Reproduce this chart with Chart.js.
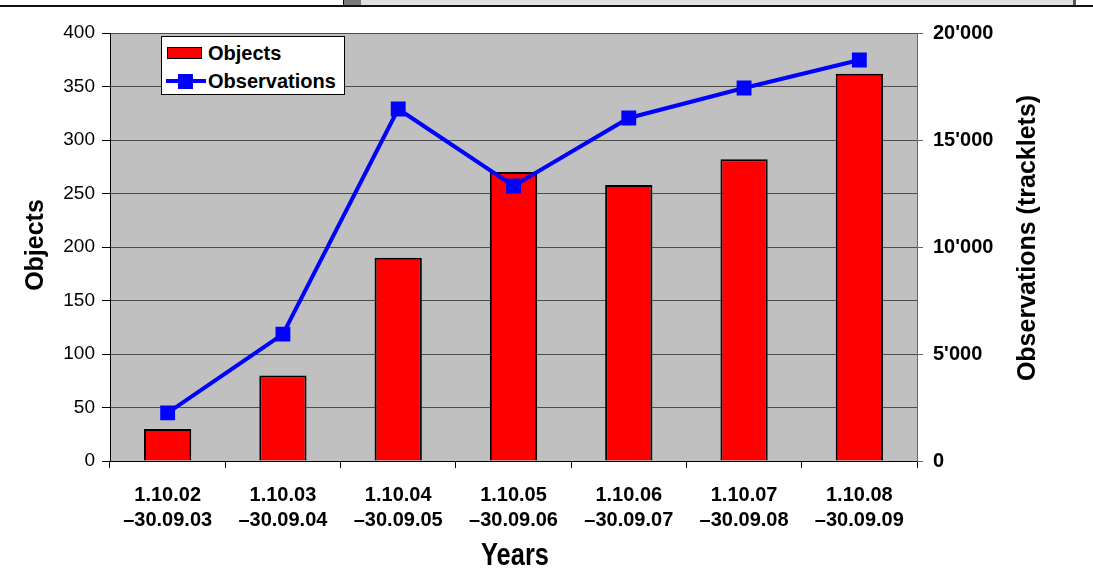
<!DOCTYPE html>
<html>
<head>
<meta charset="utf-8">
<script src="https://cdn.jsdelivr.net/npm/chart.js@4.4.1/dist/chart.umd.min.js"></script>
<style>
  html, body { margin: 0; padding: 0; background: #fff; }
  #wrap { position: relative; width: 1093px; height: 576px; overflow: hidden; font-family: "Liberation Sans", Arial, sans-serif; }
  #chartCanvas { position: absolute; left: 0; top: 0; }
  /* window strip along the top edge */
  .bar-dark { position: absolute; left: 343px; top: 0; width: 18px; height: 6px; background: #7a7a7a; border-left: 1px solid #000; }
  .bar-light { position: absolute; left: 361px; top: 0; width: 712px; height: 6px; background: #dde1e4; border-right: 3px solid #555; }
  .bar-line { position: absolute; left: 0; top: 5px; width: 1093px; height: 2px; background: #111; }
  #legend { position: absolute; left: 161px; top: 36px; width: 184px; height: 59px; background: #fff; border: 1px solid #000; box-sizing: border-box; }
  #legend .swatch { position: absolute; left: 5px; top: 10px; width: 35px; height: 12px; background: #ff0000; border: 1px solid #000; box-sizing: border-box; }
  #legend .ln { position: absolute; left: 4px; top: 42px; width: 40px; height: 4px; background: #0000ff; }
  #legend .mk { position: absolute; left: 16px; top: 37px; width: 15px; height: 15px; background: #0000ff; }
  #legend .txt { position: absolute; left: 46px; font-weight: bold; font-size: 20px; line-height: 24px; color: #000; }
</style>
</head>
<body>
<div id="wrap">
  <canvas id="chartCanvas" width="1093" height="576"></canvas>
  <div class="bar-dark"></div>
  <div class="bar-light"></div>
  <div class="bar-line"></div>
  <div id="legend">
    <div class="swatch"></div>
    <div class="txt" style="top:4px">Objects</div>
    <div class="ln"></div>
    <div class="mk"></div>
    <div class="txt" style="top:32px">Observations</div>
  </div>
</div>
<script>
const categories = [
  ['1.10.02', '–30.09.03'],
  ['1.10.03', '–30.09.04'],
  ['1.10.04', '–30.09.05'],
  ['1.10.05', '–30.09.06'],
  ['1.10.06', '–30.09.07'],
  ['1.10.07', '–30.09.08'],
  ['1.10.08', '–30.09.09']
];
const objects = [30, 80, 190, 270, 258, 282, 362];
const observations = [2250, 5930, 16450, 12850, 16030, 17430, 18740];

const FONT = '"Liberation Sans", Arial, sans-serif';

// thousands with an apostrophe: 15000 -> 15'000
const swissNum = v => String(v).replace(/\B(?=(\d{3})+(?!\d))/g, "'");

const plotBg = {
  id: 'plotBg',
  beforeDraw(chart) {
    const { ctx, chartArea: a } = chart;
    ctx.save();
    ctx.fillStyle = '#c0c0c0';
    ctx.fillRect(a.left, a.top, a.right - a.left, a.bottom - a.top);
    ctx.restore();
  }
};

const axisTitles = {
  id: 'axisTitles',
  afterDraw(chart) {
    const { ctx } = chart;
    ctx.save();
    ctx.fillStyle = '#000';
    ctx.textAlign = 'center';
    ctx.textBaseline = 'alphabetic';
    ctx.font = 'bold 25px ' + FONT;

    ctx.save();
    ctx.translate(43, 245);
    ctx.rotate(-Math.PI / 2);
    ctx.fillText('Objects', 0, 0);
    ctx.restore();

    ctx.save();
    ctx.translate(1035, 238);
    ctx.rotate(-Math.PI / 2);
    ctx.fillText('Observations (tracklets)', 0, 0);
    ctx.restore();

    ctx.save();
    ctx.translate(515, 565);
    ctx.scale(0.82, 1);
    ctx.font = 'bold 31px ' + FONT;
    ctx.fillText('Years', 0, 0);
    ctx.restore();

    ctx.restore();
  }
};

const ctx = document.getElementById('chartCanvas').getContext('2d');
new Chart(ctx, {
  data: {
    labels: categories,
    datasets: [
      {
        type: 'line',
        label: 'Observations',
        data: observations,
        yAxisID: 'y1',
        borderColor: '#0000ff',
        backgroundColor: '#0000ff',
        borderWidth: 4,
        pointStyle: 'rect',
        pointRadius: 10.5,
        pointBorderWidth: 0,
        tension: 0,
        order: 0
      },
      {
        type: 'bar',
        label: 'Objects',
        data: objects,
        yAxisID: 'y',
        backgroundColor: '#ff0000',
        borderColor: '#000',
        borderWidth: 2,
        barPercentage: 0.41,
        categoryPercentage: 1,
        order: 1
      }
    ]
  },
  options: {
    responsive: false,
    animation: false,
    layout: { padding: { top: 33, left: 0, right: 0, bottom: 0 } },
    plugins: { legend: { display: false }, tooltip: { enabled: false } },
    scales: {
      x: {
        offset: true,
        grid: { offset: true, drawOnChartArea: false, color: '#000', tickLength: 7 },
        border: { color: '#000' },
        ticks: {
          color: '#000', padding: 15, maxRotation: 0, autoSkip: false,
          font: { family: FONT, size: 20, weight: 'bold', lineHeight: 1.25 }
        },
        afterFit: s => { s.height = 115; }
      },
      y: {
        position: 'left',
        min: 0, max: 400,
        ticks: { stepSize: 50, color: '#000', padding: 7, font: { family: FONT, size: 19 } },
        grid: { color: '#4d4d4d', tickColor: '#000', tickLength: 8 },
        border: { color: '#000' },
        afterFit: s => { s.width = 110; }
      },
      y1: {
        position: 'right',
        min: 0, max: 20000,
        ticks: {
          stepSize: 5000, color: '#000', padding: 10,
          font: { family: FONT, size: 20, weight: 'bold' },
          callback: v => swissNum(v)
        },
        grid: { drawOnChartArea: false, tickColor: '#666', tickLength: 6 },
        border: { color: '#666' },
        afterFit: s => { s.width = 176; }
      }
    }
  },
  plugins: [plotBg, axisTitles]
});
</script>
</body>
</html>
